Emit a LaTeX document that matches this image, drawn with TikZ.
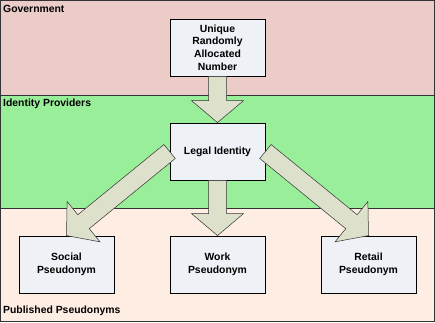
\documentclass[tikz,border=0pt]{standalone}
\usepackage{fontspec}
\setmainfont{Liberation Sans}
\usetikzlibrary{calc}

\definecolor{govpink}{RGB}{235,204,200}
\definecolor{idpgreen}{RGB}{153,238,153}
\definecolor{pubpeach}{RGB}{253,237,226}
\definecolor{boxfill}{RGB}{238,241,246}
\definecolor{arrowfill}{RGB}{221,224,203}

\begin{document}
\begin{tikzpicture}[x=1pt,y=1pt,line join=miter,
	font=\fontsize{10.4}{12.7}\selectfont\bfseries,
	idbox/.style={draw=black,line width=0.8pt,fill=boxfill,minimum width=95pt,minimum height=57pt,align=center,inner sep=2pt},
	band/.style={draw=black!80,line width=0.8pt},
	bandlabel/.style={anchor=west,inner sep=0pt},
	blockarrow/.style={draw=black!80,line width=0.5pt,fill=arrowfill}]
	\useasboundingbox (0,0) rectangle (435,322);
	% bandes
	\filldraw[band,fill=govpink] (0.5,227) rectangle (434.5,321.5);
	\filldraw[band,fill=idpgreen] (0.5,114) rectangle (434.5,227);
	\filldraw[band,fill=pubpeach] (0.5,0.5) rectangle (434.5,114);
	\node[bandlabel] (gov) at (3,313) {Government};
	\node[bandlabel] (idp) at (3,218) {Identity Providers};
	\node[bandlabel] (pub) at (3,11) {Published Pseudonyms};
	% boites
	\node[idbox] (unique) at (217.5,274.5) {Unique\\Randomly\\Allocated\\Number};
	\node[idbox] (legal) at (217.5,170.5) {Legal Identity};
	\node[idbox] (social) at (66.5,57.5) {Social\\Pseudonym};
	\node[idbox] (work) at (217.5,57.5) {Work\\Pseudonym};
	\node[idbox] (retail) at (368.5,57.5) {Retail\\Pseudonym};
	% fleches
	\foreach \a/\b in {unique.south/legal.north,legal.west/social.north,legal.south/work.north,legal.east/retail.north}{
		\coordinate (base) at ($(\b)!22pt!(\a)$);
		\filldraw[blockarrow] ($(\a)!9pt!90:(\b)$) -- ($(base)!9pt!90:(\b)$)
			-- ($(base)!26pt!90:(\b)$) -- (\b) -- ($(base)!26pt!-90:(\b)$)
			-- ($(base)!9pt!-90:(\b)$) -- ($(\a)!9pt!-90:(\b)$) -- cycle;
	}
\end{tikzpicture}
\end{document}
